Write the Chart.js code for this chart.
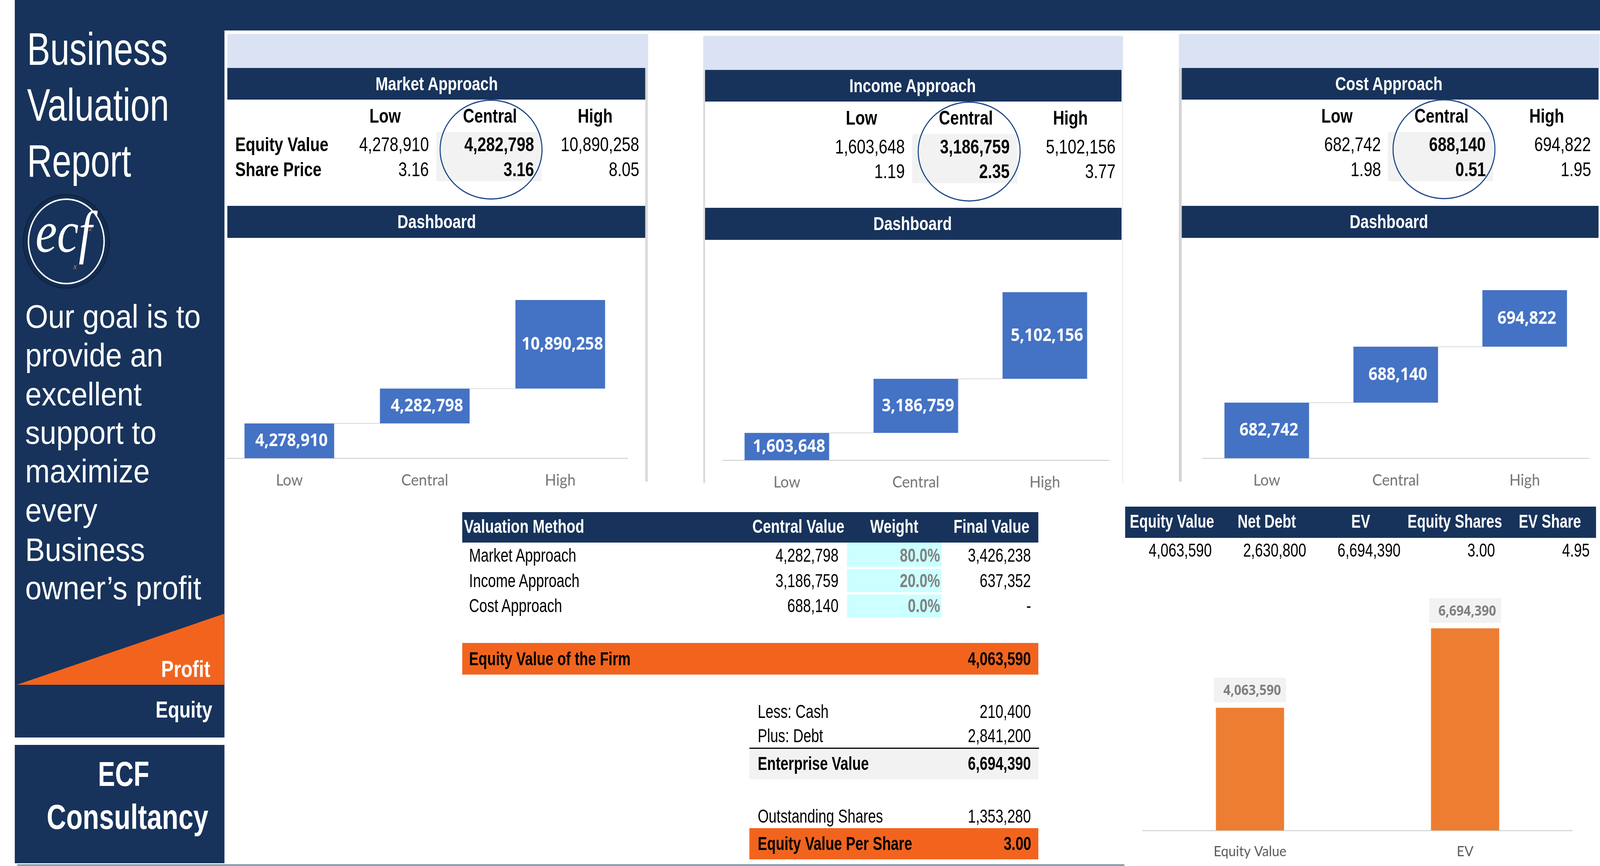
<!DOCTYPE html>
<html><head><meta charset="utf-8">
<script src="https://cdn.jsdelivr.net/npm/chart.js@4"></script>
<style>
html,body{margin:0;padding:0;background:#fff;overflow:hidden}
#page{position:absolute;left:0;top:0;width:4441px;height:2217px;overflow:hidden;font-family:"Liberation Sans",Arial,sans-serif;transform-origin:0 0}
.r,.t,.e,.c{position:absolute}
.t{white-space:nowrap;line-height:1}
.e{border-radius:50%;box-sizing:border-box;background:transparent}
</style></head><body><div id="page"></div>
<script>
// ---- data ----
const stepCategories = ['Low','Central','High'];
const marketValues = [4278910, 4282798, 10890258];
const incomeValues = [1603648, 3186759, 5102156];
const costValues = [682742, 688140, 694822];
const marketShare = ['3.16','3.16','8.05'];
const incomeShare = ['1.19','2.35','3.77'];
const costShare = ['1.98','0.51','1.95'];
const panelTitles = ['Market Approach','Income Approach','Cost Approach'];
const rowLabels = ['Equity Value','Share Price'];
const summaryCategories = ['Equity Value','EV'];
const summaryValues = [4063590, 6694390];
const summaryHeaders = ['Equity Value','Net Debt','EV','Equity Shares','EV Share'];
const summaryRow = ['4,063,590','2,630,800','6,694,390','3.00','4.95'];
const methodHeaders = ['Valuation Method','Central Value','Weight','Final Value'];
const methodNames = ['Market Approach','Income Approach','Cost Approach'];
const methodCentral = ['4,282,798','3,186,759','688,140'];
const methodWeights = ['80.0%','20.0%','0.0%'];
const methodFinal = ['3,426,238','637,352','-'];
const sideTitle = ['Business','Valuation','Report'];
const sideGoal = ['Our goal is to','provide an','excellent','support to','maximize','every','Business','owner\u2019s profit'];

const NAVY='#17335B', ORANGE='#F2641E', GREY='#F2F2F2', LIGHT='#DAE2F3';
const page=document.getElementById('page');
// the browser may clamp the window below the 4441 design width: keep the whole sheet in frame
const fitX=Math.min(1,innerWidth/4441), fitY=Math.min(1,innerHeight/2217);
page.style.transform=`scale(${fitX},${fitY})`;
function rect(x0,y0,x1,y1,c){const d=document.createElement('div');d.className='r';
  d.style.cssText=`left:${x0}px;top:${y0}px;width:${x1-x0}px;height:${y1-y0}px;background:${c}`;page.appendChild(d);return d;}
// y = vertical centre of the text box; o.base = baseline instead
function txt(s,x,y,o={}){const d=document.createElement('div');d.className='t';d.textContent=s;
  const size=o.size||48,sx=o.sx||0.84,al=o.al||'left';
  let st=`font-size:${size}px;color:${o.color||'#000'};font-weight:${o.bold?700:400};`;
  if(o.family)st+=`font-family:${o.family};`; if(o.italic)st+='font-style:italic;';
  if(o.base){st+=`top:${y-0.8465*size}px;`;var ty='';}else{st+=`top:${y}px;`;var ty='translateY(-50%) ';}
  if(al==='left')st+=`left:${x}px;transform-origin:0 50%;transform:${ty}scaleX(${sx});`;
  if(al==='right')st+=`right:${4441-x}px;transform-origin:100% 50%;transform:${ty}scaleX(${sx});`;
  if(al==='center')st+=`left:${x}px;transform-origin:50% 50%;transform:translateX(-50%) ${ty}scaleX(${sx});`;
  d.style.cssText=st;page.appendChild(d);return d;}
function ell(x0,y0,x1,y1,css){const d=document.createElement('div');d.className='e';
  d.style.cssText=`left:${x0}px;top:${y0}px;width:${x1-x0}px;height:${y1-y0}px;${css}`;page.appendChild(d);return d;}
const fmt=v=>v.toLocaleString('en-US');

// ---- frame and sidebar ----
rect(41,0,4441,78,NAVY);
rect(41,78,623,1888,NAVY);
rect(41,1907,623,2210,NAVY);
rect(48,2213,3121,2216,'#5B7C93');
const titleBase=[166,309,452];
sideTitle.forEach((s,i)=>txt(s,75,titleBase[i],{base:1,size:116,sx:.83,color:'#fff'}));
ell(63,497,305,739,'background:#152C50;border:3px solid #0F2340');
ell(77,508,291,728,'border:4px solid #fff;background:#17335B');
txt('ecf',177,594,{al:'center',size:150,sx:.9,color:'#fff',italic:1,family:'"Liberation Serif",serif'});
txt('z',251,584,{al:'center',size:22,sx:1,color:'#E07B39',italic:1,family:'"Liberation Serif",serif'});
txt('x',208,682,{al:'center',size:22,sx:1,color:'#E07B39',italic:1,family:'"Liberation Serif",serif'});
const goalBase=[839,938,1038,1136,1235,1335,1436,1534];
sideGoal.forEach((s,i)=>txt(s,70,goalBase[i],{base:1,size:84,sx:.975,color:'#fff'}));
const tri=rect(47,1571,623,1753,ORANGE);tri.style.clipPath='polygon(0 100%,100% 0,100% 100%)';
txt('Profit',584,1734,{base:1,al:'right',size:60,sx:.87,bold:1,color:'#fff'});
txt('Equity',589,1838,{base:1,al:'right',size:60,sx:.86,bold:1,color:'#fff'});
txt('ECF',343,2012,{base:1,al:'center',size:89,sx:.8,bold:1,color:'#fff'});
txt('Consultancy',354,2122,{base:1,al:'center',size:89,sx:.84,bold:1,color:'#fff'});

// ---- three approach panels ----
function panel(p){
  rect(p.lx0,p.ly,p.lx1,p.ny,LIGHT);
  rect(p.nx0,p.ny,p.nx1,p.ny+81,NAVY);
  rect(p.nx0,p.dy,p.nx1,p.dy+82,NAVY);
  txt(p.title,p.tc,p.ny+41,{al:'center',bold:1,size:48,sx:.87,color:'#fff'});
  txt('Dashboard',p.tc,p.dy+41,{al:'center',bold:1,size:48,sx:.87,color:'#fff'});
  rect(p.gx0,p.gy,p.gx1,p.gy+126,GREY);
  stepCategories.forEach((c,i)=>{
    txt(c,p.hc[i],p.hy,{al:'center',bold:1,size:50,sx:.87});
    txt(fmt(p.values[i]),p.vr[i],p.r1,{al:'right',size:50,sx:.87,bold:i===1});
    txt(p.share[i],p.vr[i],p.r2,{al:'right',size:50,sx:.87,bold:i===1});
  });
  if(p.labels)p.labels.forEach((s,i)=>txt(s,653,i?p.r2:p.r1,{bold:1,size:50,sx:.87}));
  ell(p.ex-143,p.ey-128,p.ex+143,p.ey+128,'border:3px solid #1C4587');
}
panel({lx0:631,lx1:1799,ly:87,nx0:631,nx1:1791,ny:174,dy:527,tc:1212,gx0:1211,gx1:1503,gy:338,hc:[1069,1360,1652],hy:297,
  vr:[1190,1482,1774],r1:370,r2:434,ex:1363,ey:383,title:panelTitles[0],values:marketValues,share:marketShare,labels:rowLabels});
panel({lx0:1952,lx1:3117,ly:92,nx0:1957,nx1:3113,ny:179,dy:532,tc:2533,gx0:2532,gx1:2823,gy:343,hc:[2391,2681,2971],hy:302,
  vr:[2511,2802,3096],r1:376,r2:439,ex:2690,ey:388,title:panelTitles[1],values:incomeValues,share:incomeShare});
panel({lx0:3272,lx1:4440,ly:87,nx0:3280,nx1:4437,ny:174,dy:527,tc:3855,gx0:3852,gx1:4144,gy:338,hc:[3711,4001,4293],hy:297,
  vr:[3833,4124,4416],r1:370,r2:434,ex:4008,ey:382,title:panelTitles[2],values:costValues,share:costShare});
rect(1791,174,1798,1233,'#DADADA');
rect(1952,179,1957,1237,'#DADADA');
rect(3115,179,3117,1237,'#E4E4E4');
rect(3272,174,3280,1233,'#D4D4D4');

// ---- method table ----
rect(1283,1311,2882,1389,NAVY);
txt(methodHeaders[0],1288,1348,{bold:1,color:'#fff'});
txt(methodHeaders[1],2216,1348,{al:'center',bold:1,color:'#fff'});
txt(methodHeaders[2],2482,1348,{al:'center',bold:1,color:'#fff'});
txt(methodHeaders[3],2752,1348,{al:'center',bold:1,color:'#fff'});
const cyanY=[[1389,1451],[1457,1516],[1522,1581]], rowY=[1422,1487,1551];
methodNames.forEach((s,i)=>{
  rect(2351,cyanY[i][0],2613,cyanY[i][1],'#CCFFFF');
  txt(s,1302,rowY[i],{sx:.82});
  txt(methodCentral[i],2328,rowY[i],{al:'right',sx:.82});
  txt(methodWeights[i],2609,rowY[i],{al:'right',sx:.82,bold:1,color:'#808080'});
  txt(methodFinal[i],2862,rowY[i],{al:'right',sx:.82});
});
rect(1283,1646,2882,1727,ORANGE);
txt('Equity Value of the Firm',1302,1687,{bold:1,sx:.82});
txt('4,063,590',2862,1687,{al:'right',bold:1,sx:.82});
txt('Less: Cash',2103,1822,{sx:.82}); txt('210,400',2862,1822,{al:'right',sx:.82});
txt('Plus: Debt',2103,1884,{sx:.82}); txt('2,841,200',2862,1884,{al:'right',sx:.82});
rect(2080,1917,2882,1995,GREY);
rect(2080,1914,2884,1917,'#000');
txt('Enterprise Value',2103,1955,{bold:1,sx:.82}); txt('6,694,390',2862,1955,{al:'right',bold:1,sx:.82});
txt('Outstanding Shares',2103,2090,{sx:.82}); txt('1,353,280',2862,2090,{al:'right',sx:.82});
rect(2080,2120,2882,2200,ORANGE);
txt('Equity Value Per Share',2103,2160,{bold:1,sx:.82}); txt('3.00',2862,2160,{al:'right',bold:1,sx:.82});

// ---- summary table ----
rect(3123,1297,4430,1377,NAVY);
const sumC=[3253,3516,3777,4038,4302], sumR=[3364,3626,3888,4149,4412];
summaryHeaders.forEach((s,i)=>{txt(s,sumC[i],1335,{al:'center',bold:1,sx:.82,color:'#fff'});
  txt(summaryRow[i],sumR[i],1409,{al:'right',sx:.82});});

// ---- charts ----
Chart.defaults.animation=false;
const waterfallMarks={id:'waterfallMarks',afterDatasetsDraw(ch){
  const c=ch.ctx,m=ch.getDatasetMeta(0).data,d=ch.data.datasets[0].data;
  c.save();
  c.strokeStyle='#D9D9D9';c.lineWidth=2;
  for(let i=0;i<m.length-1;i++){const y=ch.scales.y.getPixelForValue(d[i][1]);
    c.beginPath();c.moveTo(m[i].x+m[i].width/2,y);c.lineTo(m[i+1].x-m[i+1].width/2,y);c.stroke();}
  c.fillStyle='#fff';c.font='700 44px "Open Sans"';c.textAlign='center';c.textBaseline='middle';
  m.forEach((b,i)=>{const y=(ch.scales.y.getPixelForValue(d[i][0])+ch.scales.y.getPixelForValue(d[i][1]))/2;
    c.fillText(fmt(d[i][1]-d[i][0]),b.x+6,y+1);});
  c.restore();}};
const summaryMarks={id:'summaryMarks',afterDatasetsDraw(ch){
  const c=ch.ctx,m=ch.getDatasetMeta(0).data,d=ch.data.datasets[0].data;
  c.save();c.font='700 35px "Open Sans"';c.textAlign='center';c.textBaseline='middle';
  m.forEach((b,i)=>{c.fillStyle='#F2F2F2';c.fillRect(b.x-100,b.y-77,200,63);
    c.fillStyle='#7F7F7F';c.fillText(fmt(d[i]),b.x+6,b.y-43);});
  c.restore();}};
function makeChart(o){
  const wrap=document.createElement('div');wrap.className='c';
  const clipL=o.clip||o.left;
  wrap.style.cssText=`left:${clipL}px;top:${o.top}px;width:${o.w-(clipL-o.left)}px;height:${o.plotH+o.below}px;overflow:hidden`;
  const cv=document.createElement('canvas');
  cv.style.cssText=`position:absolute;left:${o.left-clipL}px;top:0`;
  cv.width=o.w;cv.height=o.plotH+o.below;wrap.appendChild(cv);page.appendChild(wrap);
  return new Chart(cv,{type:'bar',plugins:[o.plugin],data:{labels:o.labels,datasets:[{data:o.data,backgroundColor:o.color,
      categoryPercentage:1,barPercentage:o.bp,borderWidth:0,borderSkipped:false}]},
    options:{responsive:false,devicePixelRatio:1,animation:false,
      layout:{padding:0},
      plugins:{legend:{display:false},title:{display:false},tooltip:{enabled:false}},
      scales:{
        x:{grid:{display:false,drawTicks:false},border:{display:true,color:'#D9D9D9',width:3},
           ticks:{font:{family:'Lato',size:o.tick},color:o.tickColor,padding:o.pad,maxRotation:0},
           afterFit(a){a.height=o.below;}},
        y:{display:false,min:0,max:o.max}}}});
}
function steps(v){let s=0;return v.map(x=>{const r=[s,s+x];s+=x;return r;});}
makeChart({left:615,clip:631,w:1128,top:715,plotH:458,below:90,max:22000000,bp:.662,labels:stepCategories,data:steps(marketValues),color:'#4472C4',tick:41,tickColor:'#737373',pad:32,plugin:waterfallMarks});
makeChart({left:2005,w:1074,top:700,plotH:478,below:90,max:11000000,bp:.656,labels:stepCategories,data:steps(incomeValues),color:'#4472C4',tick:41,tickColor:'#737373',pad:32,plugin:waterfallMarks});
makeChart({left:3337,w:1074,top:694,plotH:479,below:90,max:2300000,bp:.656,labels:stepCategories,data:steps(costValues),color:'#4472C4',tick:41,tickColor:'#737373',pad:32,plugin:waterfallMarks});
makeChart({left:3171,w:1194,top:1520,plotH:606,below:85,max:7840000,bp:.317,labels:summaryCategories,data:summaryValues,color:'#ED7D31',tick:37,tickColor:'#595959',pad:32,plugin:summaryMarks});
</script></body></html>
